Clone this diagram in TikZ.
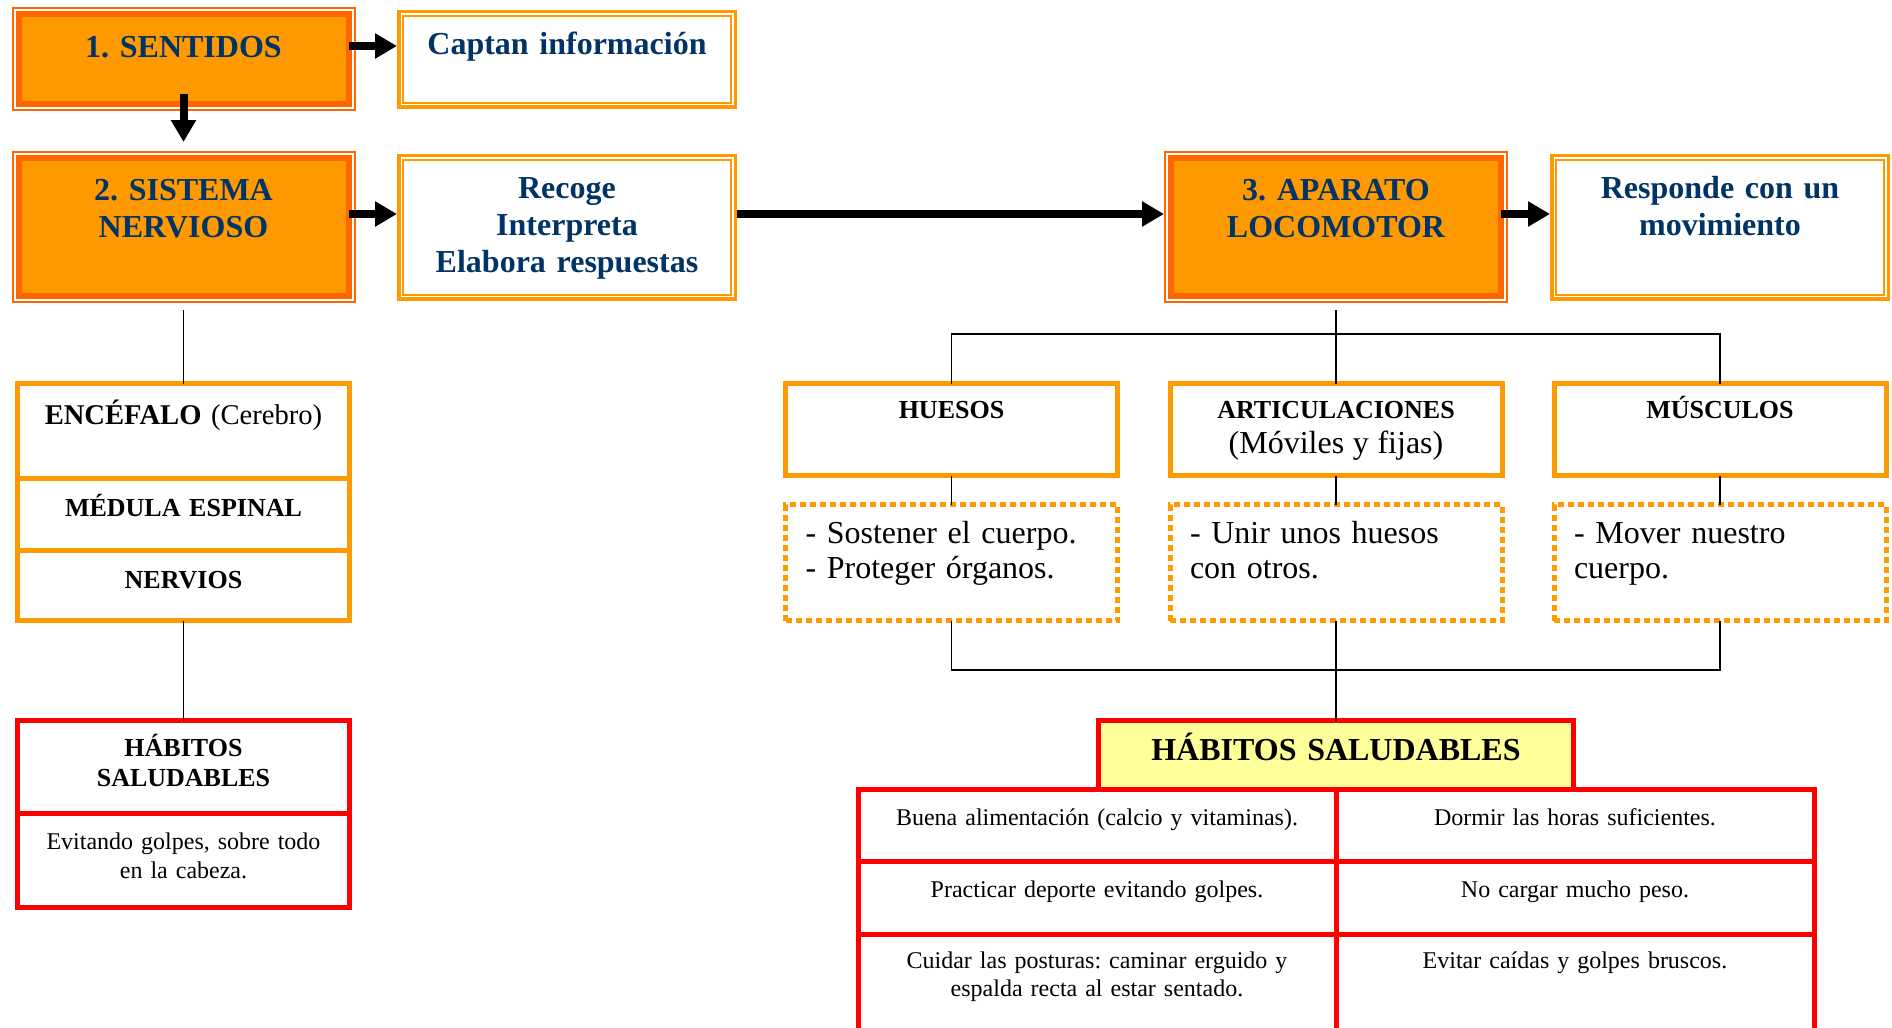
\documentclass[tikz,border=0pt]{standalone}
\usepackage{fontspec}
\setmainfont{Liberation Serif}
\usetikzlibrary{arrows.meta, positioning}
\definecolor{orange1}{RGB}{255, 153, 0}
\definecolor{orange2}{RGB}{255, 102, 0}
\definecolor{navy1}{RGB}{0, 51, 102}
\definecolor{red1}{RGB}{255, 0, 0}
\definecolor{yellow1}{RGB}{255, 255, 153}
\newcommand{\bigtext}{\fontsize{16}{18.5}\selectfont}
\newcommand{\midtext}{\fontsize{13}{15.25}\selectfont}
\newcommand{\smalltext}{\fontsize{12}{14}\selectfont}
\frenchspacing

\tikzset{
  headbox/.style={rectangle, inner sep=0pt, outer sep=0pt, text width=165pt, align=center,
    fill=orange1, draw=orange2, line width=3pt,
    preaction={draw=orange2, line width=7pt}, preaction={draw=white, line width=5pt},
    text=navy1, font=\bigtext\bfseries},
  infobox/.style={rectangle, inner sep=0pt, outer sep=0pt, text width=164pt, align=center,
    fill=white, draw=orange1, line width=1pt,
    preaction={draw=orange1, line width=6pt}, preaction={draw=white, line width=2.5pt},
    text=navy1, font=\bigtext\bfseries},
  partbox/.style={rectangle, inner sep=0pt, outer sep=0pt, text width=166pt, align=center,
    draw=orange1, line width=2.5pt, fill=white},
  notebox/.style={rectangle, inner ysep=0pt, inner xsep=10pt, outer sep=0pt, text width=146pt,
    align=left, draw=orange1, line width=2.5pt, dash pattern=on 3pt off 2pt,
    font=\fontsize{16}{17.75}\selectfont, text height=19.25pt, text depth=38.75pt},
  habbox/.style={rectangle, inner sep=0pt, outer sep=0pt, align=center, draw=red1, line width=2.5pt},
  cellbox/.style={habbox, text width=239pt, font=\smalltext, text height=18pt},
  bigarrow/.style={line width=4pt, -{Triangle[length=11pt,width=12pt]}},
  link/.style={line width=0.8pt}
}

\begin{document}
\begin{tikzpicture}[x=0.5pt, y=-0.5pt]
  \useasboundingbox (0,0) rectangle (1892,1028);

  % fila superior
  \node[headbox, text height=21.5pt, text depth=23.5pt] (sent) at (183.5,59) {1. SENTIDOS};
  \node[infobox, text height=19.5pt, text depth=24pt] (captan) at (567,59) {Captan información};
  \node[headbox, text height=21pt, text depth=48pt] (sist) at (183.5,227) {2. SISTEMA\\NERVIOSO};
  \node[infobox, text height=19.5pt, text depth=48pt] (recoge) at (567,227) {Recoge\\Interpreta\\Elabora respuestas};
  \node[headbox, text height=21pt, text depth=48pt] (apar) at (1336,227) {3. APARATO\\LOCOMOTOR};
  \node[infobox, text height=19.5pt, text depth=48pt] (responde) at (1720,227) {Responde con un\\movimiento};

  % sistema nervioso
  \node[partbox, text height=20.5pt, text depth=26.75pt, font=\fontsize{14.3}{16}\selectfont] (enc) at (183.5,430.75) {\textbf{ENCÉFALO} (Cerebro)};
  \node[partbox, below=0pt of enc, text height=19.3pt, text depth=16.7pt, font=\midtext\bfseries] (med) {MÉDULA ESPINAL};
  \node[partbox, below=0pt of med, text height=19pt, text depth=16.25pt, font=\midtext\bfseries] (nerv) {NERVIOS};
  \node[habbox, text width=166pt, text height=17.75pt, text depth=28.5pt, font=\midtext\bfseries] (habsn) at (183.5,766.75) {HÁBITOS\\SALUDABLES};
  \node[habbox, below=0pt of habsn, text width=166pt, text height=18pt, text depth=29.25pt, font=\fontsize{12}{14.5}\selectfont] (golpes) {Evitando golpes, sobre todo\\en la cabeza.};

  % aparato locomotor
  \node[partbox, text height=17.25pt, text depth=28.75pt, font=\midtext\bfseries] (huesos) at (951.5,429.5) {HUESOS};
  \node[partbox, text height=17.25pt, text depth=28.75pt, font=\fontsize{13}{17.5}\selectfont\bfseries] (artic) at (1336,429.5) {ARTICULACIONES\\{\fontsize{16}{17.5}\selectfont\mdseries (Móviles y fijas)}};
  \node[partbox, text height=17.25pt, text depth=28.75pt, font=\midtext\bfseries] (musc) at (1720,429.5) {MÚSCULOS};
  \node[notebox] (huesosnote) at (951.5,562.5) {- Sostener el cuerpo.\\- Proteger órganos.};
  \node[notebox] (articnote) at (1336,562.5) {- Unir unos huesos\\con otros.};
  \node[notebox] (muscnote) at (1720,562.5) {- Mover nuestro\\cuerpo.};

  % habitos saludables
  \node[habbox, fill=yellow1, text width=237.5pt, text height=19.75pt, text depth=14.5pt, font=\bigtext\bfseries] (habal) at (1336,754.75) {HÁBITOS SALUDABLES};
  \node[cellbox, anchor=north west, text depth=18.25pt] (buena) at (858,789) {Buena alimentación (calcio y vitaminas).};
  \node[cellbox, right=0pt of buena, text depth=18.25pt] (dormir) {Dormir las horas suficientes.};
  \node[cellbox, below=0pt of buena, text depth=18.5pt] (practicar) {Practicar deporte evitando golpes.};
  \node[cellbox, right=0pt of practicar, text depth=18.5pt] (nocargar) {No cargar mucho peso.};
  \node[cellbox, below=0pt of practicar, text height=17pt, text depth=36pt] (cuidar) {Cuidar las posturas: caminar erguido y\\espalda recta al estar sentado.};
  \node[cellbox, right=0pt of cuidar, text height=17pt, text depth=36pt] (evitar) {Evitar caídas y golpes bruscos.};

  % flechas
  \draw[bigarrow, shorten >=3pt] ([yshift=6.5pt]sent.east) -- ([yshift=6.5pt]captan.west);
  \draw[bigarrow, shorten >=8pt] ([yshift=5pt]sent.south) -- (sist.north);
  \draw[bigarrow, shorten >=3pt] ([yshift=6.5pt]sist.east) -- ([yshift=6.5pt]recoge.west);
  \draw[bigarrow, shorten <=3pt, shorten >=3.5pt] ([yshift=6.5pt]recoge.east) -- ([yshift=6.5pt]apar.west);
  \draw[bigarrow, shorten >=3pt] ([yshift=6.5pt]apar.east) -- ([yshift=6.5pt]responde.west);

  % lineas
  \draw[link] ([yshift=-7pt]sist.south) -- (enc.north);
  \draw[link] (nerv.south) -- (habsn.north);
  \coordinate (toptee) at (1336,334);
  \coordinate (bottee) at (1336,670);
  \draw[link] ([yshift=-7pt]apar.south) -- (artic.north);
  \draw[link] (huesos.north) |- (toptee) -| (musc.north);
  \draw[link] (huesos.south) -- (huesosnote.north);
  \draw[link] (artic.south) -- (articnote.north);
  \draw[link] (musc.south) -- (muscnote.north);
  \draw[link] (huesosnote.south) |- (bottee) -| (muscnote.south);
  \draw[link] (articnote.south) -- (habal.north);
\end{tikzpicture}
\end{document}
